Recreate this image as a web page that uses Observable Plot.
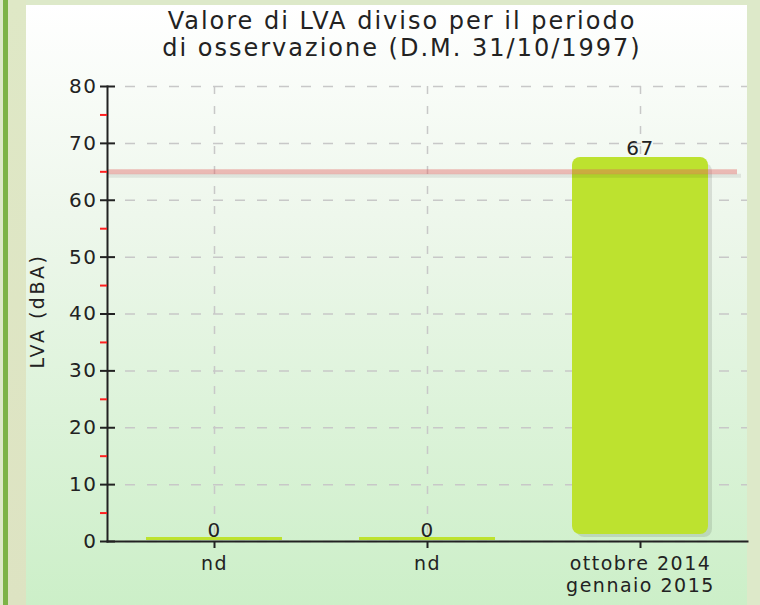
<!DOCTYPE html>
<html>
<head>
<meta charset="utf-8">
<script src="https://cdn.jsdelivr.net/npm/d3@7"></script>
<script src="https://cdn.jsdelivr.net/npm/@observablehq/plot@0.6"></script>
<style>
  html, body { margin: 0; padding: 0; }
  #wrap { position: relative; width: 760px; height: 605px; overflow: hidden; background: #dde9c9; font-family: "DejaVu Sans", sans-serif; color: #222; }
  #stripeDark { position: absolute; left: 3px; top: 0; width: 5px; height: 605px; background: #7db347; }
  #stripeTan { position: absolute; left: 8px; top: 0; width: 18px; height: 605px; background: linear-gradient(#dfe8c6, #dde3c2); }
  #panel { position: absolute; left: 26px; top: 5px; width: 721px; height: 600px; background: linear-gradient(#ffffff 0%, #eef7ec 35%, #ccefc8 100%); }
  #title { position: absolute; left: 102px; width: 600px; top: 8px; text-align: center; font-size: 24px; line-height: 27px; letter-spacing: 2px; }
  #ylabel { position: absolute; left: 37px; top: 311px; transform: translate(-50%, -50%) rotate(-90deg); font-size: 19px; letter-spacing: 2.5px; white-space: nowrap; }
  #chart { position: absolute; left: 0; top: 0; }
</style>
</head>
<body>
<div id="wrap">
  <div id="stripeDark"></div>
  <div id="stripeTan"></div>
  <div id="panel"></div>
  <div id="chart"></div>
  <div id="title">Valore di LVA diviso per il periodo<br>di osservazione (D.M. 31/10/1997)</div>
  <div id="ylabel">LVA (dBA)</div>
</div>
<script>
const keys = ["p1", "p2", "p3"];
const labels = ["nd", "nd", "ottobre 2014\ngennaio 2015"];
const values = [0, 0, 67];
const limitValue = [65];
const yTicks = [0, 10, 20, 30, 40, 50, 60, 70, 80];
const yMinorTicks = [5, 15, 25, 35, 45, 55, 65, 75];

const data = keys.map((k, i) => ({key: k, label: labels[i], value: values[i]}));
const labelOf = Object.fromEntries(keys.map((k, i) => [k, labels[i]]));
const barFill = "#bde22f";

const chart = Plot.plot({
  width: 760,
  height: 605,
  marginLeft: 107,
  marginRight: 13,
  marginTop: 86,
  marginBottom: 64,
  style: {background: "transparent", fontFamily: "DejaVu Sans, sans-serif", fontSize: "20px", letterSpacing: "1.5px", color: "#222"},
  x: {type: "band", domain: keys, paddingInner: 0.36, paddingOuter: 0.18, label: null},
  y: {domain: [0, 80], label: null},
  marks: [
    Plot.gridY(yTicks, {stroke: "#c8c8c8", strokeOpacity: 1, strokeWidth: 1.5, strokeDasharray: "10,12", insetLeft: 18}),
    Plot.gridX({stroke: "#c8c8c8", strokeOpacity: 1, strokeWidth: 1.5, strokeDasharray: "8,12"}),
    // bar shadow
    Plot.barY(data.filter(d => d.value > 0), {x: "key", y: "value", fill: "#000", fillOpacity: 0.1, rx: 8, dx: 4, dy: 3, insetBottom: 7}),
    Plot.barY(data.filter(d => d.value > 0), {x: "key", y: "value", fill: barFill, rx: 8, insetBottom: 7, insetTop: -3}),
    // limit line with shadow
    Plot.ruleY(limitValue, {stroke: "#000", strokeOpacity: 0.08, strokeWidth: 4, dy: 4, insetRight: 6}),
    Plot.ruleY(limitValue, {stroke: "#e05a5a", strokeOpacity: 0.4, strokeWidth: 5, insetRight: 10}),
    // axes
    Plot.frame({anchor: "left", stroke: "#222", strokeWidth: 2}),
    Plot.frame({anchor: "bottom", stroke: "#222", strokeWidth: 2}),
    // zero-height bars drawn as a thin strip on the baseline
    Plot.barY(data.filter(d => d.value === 0), {x: "key", y1: 0, y2: "value", fill: barFill, insetTop: -4, insetBottom: 1}),
    Plot.axisY(yMinorTicks, {tickSize: 7, stroke: "#ff2020", strokeWidth: 2, tickFormat: () => ""}),
    Plot.axisY(yTicks, {tickSize: 15, dx: 8, stroke: "#222", strokeWidth: 2, tickFormat: () => ""}),
    Plot.axisY(yTicks, {tickSize: 0, tickPadding: 10, fontSize: 20, fill: "#222"}),
    Plot.axisX({tickSize: 7, stroke: "#222", strokeWidth: 2, tickPadding: 6, tickFormat: k => labelOf[k], fontSize: 19, lineHeight: 1.15, fill: "#222"}),
    // value labels
    Plot.text(data, {x: "key", y: "value", text: d => String(d.value), lineAnchor: "bottom", dy: -5, fontSize: 20, fill: "#222"})
  ]
});
document.getElementById("chart").appendChild(chart);
</script>
</body>
</html>
